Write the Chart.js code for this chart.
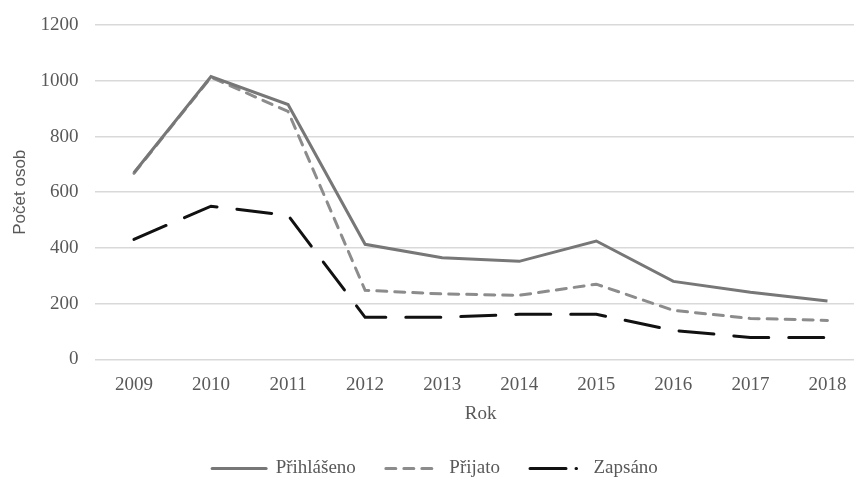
<!DOCTYPE html>
<html>
<head>
<meta charset="utf-8">
<script src="https://cdn.jsdelivr.net/npm/chart.js@4"></script>
<style>
  html, body { margin: 0; padding: 0; background: #fff; overflow: hidden; }
  #wrap { width: 866px; height: 480px; }
</style>
</head>
<body>
<div id="wrap"><canvas id="myChart"></canvas></div>
<script>
const roky = ["2009", "2010", "2011", "2012", "2013", "2014", "2015", "2016", "2017", "2018"];
const prihlaseno = [670, 1015, 915, 413, 365, 352, 425, 280, 241, 210];
const prijato = [668, 1013, 890, 248, 235, 230, 270, 176, 147, 140];
const zapsano = [431, 550, 517, 151, 151, 162, 162, 104, 79, 79];

const serif = "'Liberation Serif', 'Times New Roman', serif";
const seda = "#595959";

// legenda s carami podle stylu datasetu
const legendaDash = [null, [10, 8], [36, 10, 0.5, 60]];

function legendaPolozky(chart) {
  const items = Chart.defaults.plugins.legend.labels.generateLabels(chart);
  items.forEach(it => {
    const d = legendaDash[it.datasetIndex];
    it.lineDash = d || [];
    it.lineCap = "round";
  });
  return items;
}

const config = {
  type: "line",
  data: {
    labels: roky,
    datasets: [
      {
        label: "Přihlášeno",
        data: prihlaseno,
        borderColor: "#777777",
        backgroundColor: "#777777",
        borderWidth: 3,
        pointRadius: 0,
        tension: 0
      },
      {
        label: "Přijato",
        data: prijato,
        borderColor: "#8c8c8c",
        backgroundColor: "#8c8c8c",
        borderWidth: 3,
        borderDash: [10, 8],
        borderCapStyle: "round",
        pointRadius: 0,
        tension: 0
      },
      {
        label: "Zapsáno",
        data: zapsano,
        borderColor: "#111111",
        backgroundColor: "#111111",
        borderWidth: 3,
        borderDash: [35, 20],
        borderCapStyle: "round",
        pointRadius: 0,
        tension: 0
      }
    ]
  },
  options: {
    responsive: true,
    maintainAspectRatio: false,
    animation: false,
    layout: { padding: { top: 13, left: 4, right: 0, bottom: -8 } },
    plugins: {
      tooltip: { enabled: false },
      legend: {
        position: "bottom",
        labels: {
          usePointStyle: true,
          pointStyle: "line",
          pointStyleWidth: 54,
          color: seda,
          font: { family: serif, size: 19 },
          padding: 30,
          generateLabels: legendaPolozky
        }
      }
    },
    scales: {
      x: {
        offset: true,
        grid: { display: false, drawTicks: false },
        border: { display: false },
        ticks: { color: seda, font: { family: serif, size: 19 }, padding: 14 },
        title: {
          display: true,
          text: "Rok",
          color: seda,
          font: { family: serif, size: 19 },
          padding: { top: -8, bottom: 4 }
        }
      },
      y: {
        min: 0,
        max: 1200,
        ticks: {
          stepSize: 200,
          color: seda,
          font: { family: serif, size: 19, lineHeight: 0.85 },
          padding: 17,
          callback: v => String(v)
        },
        grid: { color: "#d9d9d9", lineWidth: 1.5, drawTicks: false },
        border: { display: false },
        title: {
          display: true,
          text: "Počet osob",
          color: seda,
          font: { family: "'Liberation Sans', Arial, sans-serif", size: 17 },
          padding: { top: 6, bottom: -7 }
        }
      }
    }
  }
};

new Chart(document.getElementById("myChart"), config);
</script>
</body>
</html>
